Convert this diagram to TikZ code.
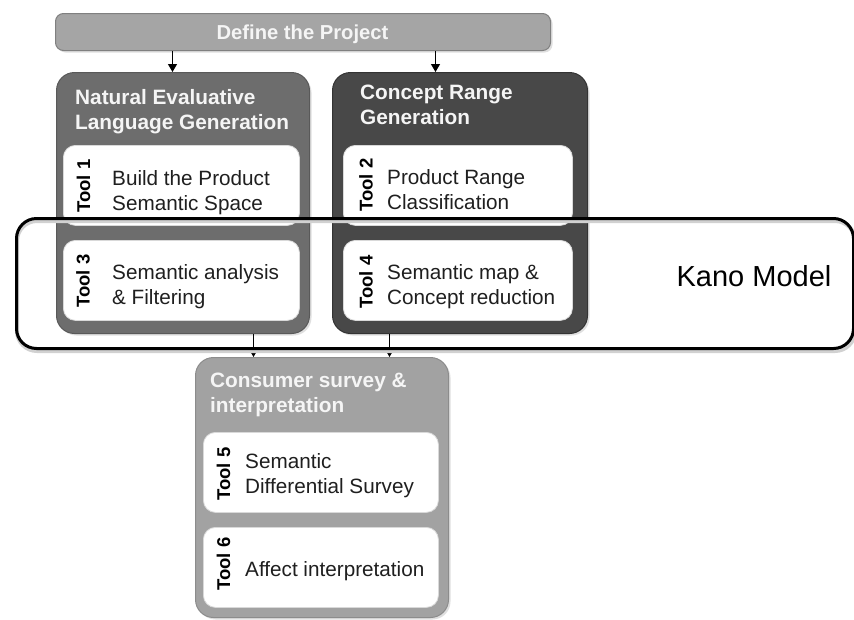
\documentclass[tikz,border=0pt]{standalone}
\usepackage{fontspec}
\setmainfont{Liberation Sans}
\usetikzlibrary{arrows.meta,shadows}
\definecolor{defc}{HTML}{A5A5A5}
\definecolor{nelgc}{HTML}{6D6D6D}
\definecolor{crgc}{HTML}{484848}
\definecolor{csic}{HTML}{A2A2A2}
\newcommand{\mytwo}[2]{\vtop{\hbox{#1}\hbox{#2}}}
\tikzset{
  outerbox/.style={rounded corners=18pt, line width=1pt, anchor=north west, inner sep=0pt,
    drop shadow={shadow xshift=2pt, shadow yshift=-2pt, opacity=0.25}},
  innerbox/.style={rounded corners=12pt, fill=white, draw=black!15, line width=0.8pt,
    anchor=north west, inner sep=0pt},
  toollabel/.style={rotate=90, inner sep=0pt, font=\bfseries\fontsize{18.5}{20}\selectfont, text=black},
  body/.style={anchor=base west, inner sep=0pt, font=\fontsize{20.7}{25}\selectfont, text=black!88},
  titletext/.style={anchor=base west, inner sep=0pt, font=\bfseries\fontsize{20.8}{25}\selectfont, text=white!96!black},
  arr/.style={-{Triangle[width=9pt,length=8pt]}, line width=1.3pt, black},
}
\begin{document}
\begin{tikzpicture}[x=1pt,y=-1pt]
\useasboundingbox (0,0) rectangle (854,619);
\fill[white] (0,0) rectangle (854,619);

% top bar
\node[outerbox, rounded corners=8pt, fill=defc, draw=black!50, minimum width=495pt, minimum height=37pt] (define) at (55,13) {};
\node[anchor=base, inner sep=0pt, font=\bfseries\fontsize{20.2}{24}\selectfont, text=white!96!black] (definetxt) at (302.5,39) {Define the Project};

% main group boxes
\node[outerbox, fill=nelgc, draw=black!65, minimum width=253pt, minimum height=261pt] (nelg) at (56,72) {};
\node[outerbox, fill=crgc, draw=black!80, minimum width=255pt, minimum height=261pt] (crg) at (332,72) {};
\node[outerbox, fill=csic, draw=black!45, minimum width=253pt, minimum height=260pt] (csi) at (195,357) {};

\node[titletext] (nelgt) at (75,104) {\mytwo{Natural Evaluative}{Language Generation}};
\node[titletext] (crgt) at (360,99) {\mytwo{Concept Range}{Generation}};
\node[titletext] (csit) at (210,387) {\mytwo{Consumer survey \&}{interpretation}};

% tool boxes
\node[innerbox, minimum width=236pt, minimum height=80pt] (t1) at (63,145) {};
\node[innerbox, minimum width=236pt, minimum height=80pt] (t3) at (63,240) {};
\node[innerbox, minimum width=229pt, minimum height=80pt] (t2) at (343,145) {};
\node[innerbox, minimum width=229pt, minimum height=80pt] (t4) at (343,240) {};
\node[innerbox, minimum width=235pt, minimum height=80pt] (t5) at (203,432) {};
\node[innerbox, minimum width=235pt, minimum height=80pt] (t6) at (203,527) {};

\node[toollabel] (l1) at (83.5,186) {Tool 1};
\node[toollabel] (l3) at (83,281) {Tool 3};
\node[toollabel] (l2) at (366,185) {Tool 2};
\node[toollabel] (l4) at (366,282) {Tool 4};
\node[toollabel] (l5) at (223.5,474) {Tool 5};
\node[toollabel] (l6) at (223.5,564) {Tool 6};

\node[body] (b1) at (112,185) {\mytwo{Build the Product}{Semantic Space}};
\node[body] (b3) at (112,279) {\mytwo{Semantic analysis}{\& Filtering}};
\node[body] (b2) at (387,184) {\mytwo{Product Range}{Classification}};
\node[body] (b4) at (387,279) {\mytwo{Semantic map \&}{Concept reduction}};
\node[body] (b5) at (245,468) {\mytwo{Semantic}{Differential Survey}};
\node[body] (b6) at (245,576) {Affect interpretation};

% connectors
\coordinate (a1) at ([xshift=-10.5pt]nelg.north);
\coordinate (a2) at ([xshift=-24.5pt]crg.north);
\coordinate (a3) at ([xshift=70.5pt]nelg.south);
\coordinate (a4) at ([xshift=-70.5pt]crg.south);
\draw[arr] (a1 |- define.south) -- (a1);
\draw[arr] (a2 |- define.south) -- (a2);
\draw[arr] (a3) -- (a3 |- csi.north);
\draw[arr] (a4) -- (a4 |- csi.north);

% Kano model frame
\draw[black!18, line width=4pt, rounded corners=20pt] (17,221) rectangle (855,351);
\node[draw=black, line width=3pt, rounded corners=20pt, minimum width=837pt, minimum height=130pt, anchor=north west, inner sep=0pt] (kano) at (15,217) {};
\node[anchor=base, inner sep=0pt, font=\fontsize{29}{34}\selectfont] (kanot) at (754,286) {Kano Model};
\end{tikzpicture}
\end{document}
